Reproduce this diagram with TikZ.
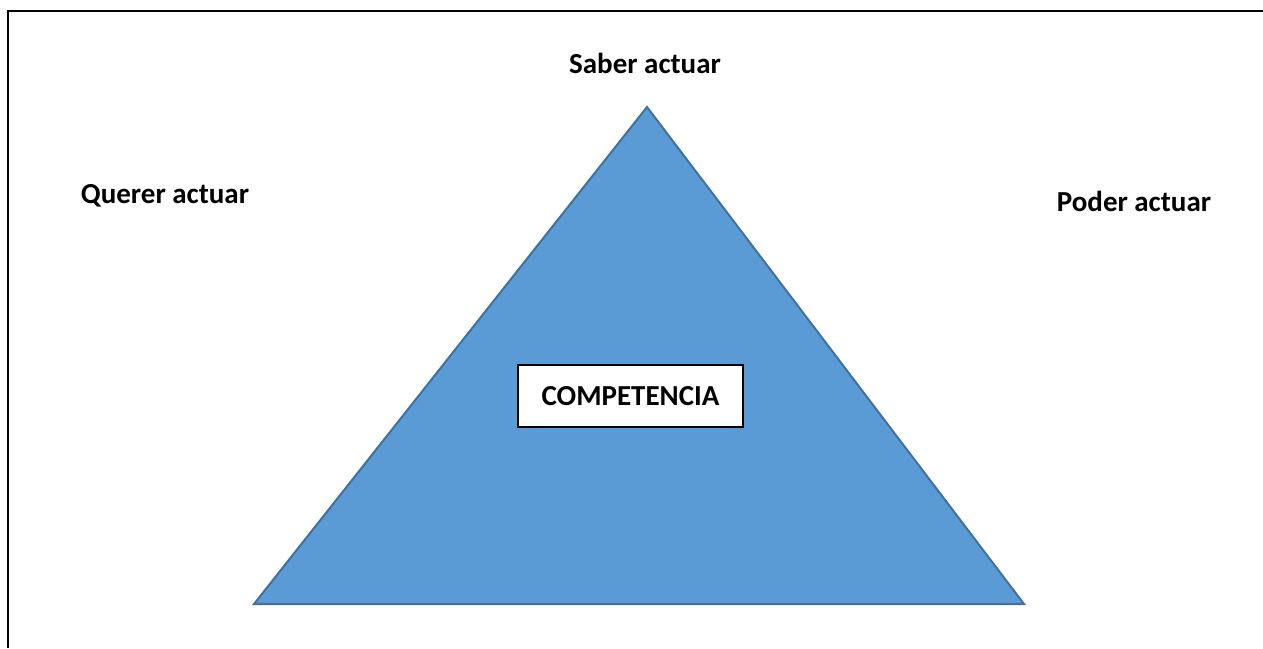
\documentclass[tikz,border=0pt]{standalone}
\usepackage{fontspec}
\setmainfont{Carlito}
\definecolor{triFill}{HTML}{5B9BD5}
\definecolor{triLine}{HTML}{41719C}
\begin{document}
\begin{tikzpicture}[x=1pt,y=-1pt,
  lbl/.style={font=\fontsize{29}{34}\selectfont\bfseries, inner sep=0pt},
  compbox/.style={draw=black, line width=1.5pt, fill=white, minimum width=225pt, minimum height=62pt, inner sep=0pt, font=\fontsize{29}{34}\selectfont\bfseries}]
\useasboundingbox (0,0) rectangle (1263,648);
\draw[line width=2pt, black] (8,648) -- (8,11) -- (1263,11);
\coordinate (apex) at (647,107);
\coordinate (bl) at (254,604);
\coordinate (br) at (1024,604);
\filldraw[fill=triFill, draw=triLine, line width=2pt, line join=miter] (apex) -- (br) -- (bl) -- cycle;
\node[compbox] (comp) at (630.5,396) {COMPETENCIA};
\node[lbl] (saber) at (645,63) {Saber actuar};
\node[lbl] (querer) at (165,196) {Querer actuar};
\node[lbl] (poder) at (1134,201) {Poder actuar};
\end{tikzpicture}
\end{document}
